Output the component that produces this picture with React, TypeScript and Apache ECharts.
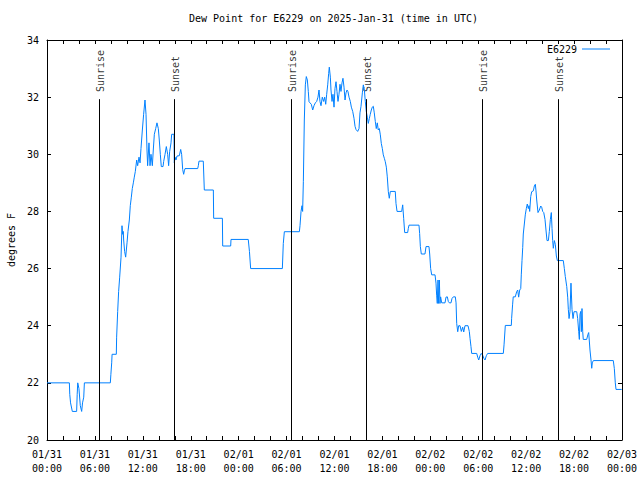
import React, { useEffect, useRef } from "react";
import * as echarts from "echarts";

const TITLE = "Dew Point for E6229 on 2025-Jan-31 (time in UTC)";
const SERIES_NAME = "E6229";
const Y_NAME = "degrees F";

// 13 tick labels every 6 hours from 01/31 00:00 to 02/03 00:00
const tickLabels = [
  "01/31\n00:00", "01/31\n06:00", "01/31\n12:00", "01/31\n18:00",
  "02/01\n00:00", "02/01\n06:00", "02/01\n12:00", "02/01\n18:00",
  "02/02\n00:00", "02/02\n06:00", "02/02\n12:00", "02/02\n18:00",
  "02/03\n00:00",
];

// hours since 2025-01-31 00:00 UTC
const hours = [
  0, 2.8, 2.85, 2.95, 3.17, 3.71, 3.78, 3.85, 4.0, 4.17, 4.34, 4.45, 4.6, 4.68,
  7.93, 8.0, 8.1, 8.15, 8.68, 8.72, 8.85, 8.97, 9.1, 9.27, 9.39, 9.47, 9.55, 9.6,
  9.72, 9.85, 10.02, 10.14, 10.31, 10.43, 10.56, 10.68, 10.81, 10.93, 11.06, 11.23,
  11.35, 11.52, 11.65, 11.77, 11.94, 12.1, 12.27, 12.4, 12.52, 12.6, 12.77, 12.9,
  13.02, 13.19, 13.31, 13.44, 13.61, 13.77, 13.94, 14.06, 14.19, 14.31, 14.53, 14.61,
  14.78, 14.94, 15.11, 15.23, 15.36, 15.53, 15.61, 15.9, 15.94, 16.03, 16.15, 16.28,
  16.57, 16.74, 16.86, 16.99, 17.11, 17.2, 17.28, 18.87, 18.95, 19.03, 19.57, 19.7,
  20.83, 20.87, 21.96, 22.0, 23.0, 23.04, 25.2, 25.35, 25.5, 29.47, 29.59, 29.72,
  31.6, 31.68, 31.81, 31.93, 32.01, 32.1, 32.22, 32.35, 32.47, 32.6, 32.72, 32.81,
  32.93, 33.1, 33.27, 33.43, 33.6, 33.77, 33.93, 34.06, 34.18, 34.31, 34.47, 34.64,
  34.77, 34.9, 35.02, 35.15, 35.27, 35.35, 35.48, 35.56, 35.69, 35.81, 35.94, 36.06,
  36.19, 36.31, 36.44, 36.56, 36.69, 36.81, 36.94, 37.06, 37.19, 37.32, 37.44, 37.57,
  37.69, 37.82, 37.98, 38.11, 38.28, 38.44, 38.57, 38.69, 38.9, 39.07, 39.19, 39.32,
  39.49, 39.61, 39.74, 39.86, 39.98, 40.11, 40.23, 40.36, 40.48, 40.61, 40.73, 40.86,
  40.98, 41.11, 41.23, 41.36, 41.48, 41.61, 41.74, 41.86, 41.99, 42.11, 42.24, 42.36,
  42.49, 42.61, 42.74, 42.86, 42.99, 43.61, 43.7, 43.83, 44.41, 44.54, 44.66, 44.79,
  45.16, 45.24, 45.33, 46.58, 46.66, 46.75, 46.87, 47.33, 47.46, 47.83, 47.92, 48.04,
  48.17, 48.59, 48.71, 48.79, 48.87, 48.96, 49.04, 49.13, 49.21, 49.29, 49.42, 49.84,
  49.96, 50.13, 50.25, 50.38, 50.59, 50.71, 50.88, 51.13, 51.22, 51.3, 51.43, 51.55,
  51.72, 51.88, 52.05, 52.18, 52.34, 52.72, 52.88, 52.97, 53.09, 53.18, 53.81, 53.93,
  54.06, 54.22, 54.38, 54.55, 54.72, 54.85, 55.01, 55.18, 57.14, 57.23, 57.39, 58.14,
  58.18, 58.3, 58.38, 58.64, 58.81, 58.94, 59.06, 59.19, 59.32, 59.39, 59.48, 59.57,
  59.64, 59.77, 59.89, 60.02, 60.14, 60.27, 60.36, 60.44, 60.57, 60.69, 60.9, 61.02,
  61.15, 61.23, 61.32, 61.48, 61.65, 61.82, 61.94, 62.07, 62.2, 62.36, 62.48, 62.61,
  62.78, 62.9, 63.03, 63.15, 63.24, 63.32, 63.4, 63.53, 63.65, 63.78, 63.9, 64.65,
  64.78, 64.9, 65.08, 65.2, 65.28, 65.37, 65.49, 65.61, 65.74, 65.87, 65.99, 66.33,
  66.45, 66.58, 66.66, 66.74, 66.83, 66.91, 66.99, 67.08, 67.15, 67.58, 67.74, 67.83,
  67.9, 67.99, 68.12, 68.21, 68.28, 68.41, 70.91, 71.04, 71.16, 71.25, 71.96,
];

// dew point, degrees F
const dewPoint = [
  22.0, 22.0, 21.6, 21.3, 21.0, 21.0, 21.6, 22.0, 21.8, 21.2, 21.0, 21.3, 21.5, 22.0,
  22.0, 22.3, 22.7, 23.0, 23.0, 23.6, 24.5, 25.2, 25.7, 26.4, 27.5, 27.2, 27.3, 27.0,
  26.6, 26.4, 26.9, 27.3, 27.7, 28.2, 28.5, 28.8, 29.0, 29.2, 29.4, 29.8,
  29.6, 29.9, 29.7, 30.2, 30.85, 31.4, 31.9, 31.4, 30.15, 29.6, 30.4, 29.6,
  30.0, 29.6, 30.15, 30.7, 30.9, 31.1, 30.9, 30.5, 30.0, 29.57, 29.57, 29.75,
  30.0, 30.27, 30.0, 29.6, 30.1, 30.4, 30.7, 30.7, 29.7, 29.9, 29.8, 29.94,
  29.95, 30.17, 30.0, 29.47, 29.3, 29.42, 29.5, 29.5, 29.6, 29.76, 29.76, 28.75,
  28.75, 27.76, 27.76, 26.79, 26.79, 27.02, 27.02, 26.6, 26.0, 26.0, 26.88, 27.29,
  27.29, 27.5, 28.0, 28.2, 28.0, 29.04, 31.2, 32.43, 32.72, 32.6, 32.2, 31.84,
  31.8, 31.75, 31.55, 31.7, 31.8, 31.85, 32.0, 32.25, 31.85, 31.7, 32.0, 31.85,
  32.0, 31.75, 32.1, 32.43, 32.83, 33.05, 32.7, 32.25, 31.85, 32.1, 31.65, 32.3,
  32.54, 32.2, 31.85, 32.1, 32.45, 32.2, 32.5, 32.66, 32.35, 31.9, 32.15, 32.25,
  32.19, 32.0, 31.85, 31.65, 31.5, 31.26, 30.98, 30.87, 30.8, 30.9, 31.45, 31.68,
  32.15, 32.43, 32.25, 31.84, 31.5, 31.3, 31.08, 31.25, 31.4, 31.55, 31.65, 31.68,
  31.45, 31.15, 30.9, 31.1, 30.85, 30.9, 30.68, 30.38, 30.2, 29.98, 29.86, 29.74,
  29.55, 29.21, 28.69, 28.46, 28.7, 28.7, 28.28, 28.0, 28.0, 28.23, 27.76, 27.26,
  27.26, 27.4, 27.52, 27.52, 27.23, 26.77, 26.51, 26.51, 26.77, 26.77, 26.51, 26.0,
  25.78, 25.78, 25.49, 25.07, 24.78, 25.6, 24.78, 25.6, 24.78, 25.01, 24.8, 24.8,
  25.0, 25.01, 24.85, 24.8, 24.8, 24.95, 25.01, 25.01, 24.8, 24.08, 23.79, 24.0,
  24.0, 23.8, 23.95, 23.78, 24.0, 24.0, 23.8, 23.56, 23.27, 23.03, 23.03, 22.9,
  22.8, 22.95, 23.03, 22.97, 22.85, 22.8, 22.95, 23.03, 23.03, 23.33, 24.01, 24.01,
  24.26, 24.73, 25.01, 25.01, 25.19, 25.25, 25.0, 25.25, 25.3, 25.78, 26.28, 26.74,
  27.21, 27.56, 27.88, 28.1, 28.26, 28.1, 28.2, 28.0, 28.52, 28.69, 28.72, 28.89,
  28.95, 28.72, 28.4, 27.96, 28.05, 28.19, 28.15, 28.0, 27.96, 27.72, 27.35, 26.98,
  26.98, 27.3, 27.72, 27.96, 27.4, 26.98, 26.71, 26.98, 26.85, 26.44, 26.28, 26.28,
  26.0, 25.72, 25.37, 25.0, 24.57, 24.25, 24.5, 25.49, 24.57, 24.25, 24.49, 24.49,
  24.25, 23.79, 23.52, 24.4, 24.5, 23.79, 24.6, 23.79, 23.52, 23.52, 23.7, 23.76,
  23.5, 23.15, 22.8, 22.51, 22.7, 22.78, 22.78, 22.5, 22.0, 21.77, 21.77,
];

// sunrise / sunset markers (hours since 01/31 00:00 UTC)
const sunNames = ["Sunrise", "Sunset", "Sunrise", "Sunset", "Sunrise", "Sunset"];
const sunHours = [6.55, 15.94, 30.59, 39.98, 54.51, 64.03];
const sunLineTop = 31.93;
const sunLabelBase = 32.18;

const Y_MIN = 20;
const Y_MAX = 34;
const Y_STEP = 2;
const X_MIN = 0;
const X_MAX = 72;
const X_STEP = 6;

const FONT = "DejaVu Sans Mono";

export default function App() {
  const ref = useRef<HTMLDivElement>(null);

  useEffect(() => {
    document.body.style.margin = "0";
    if (!ref.current) return;
    const chart = echarts.init(ref.current, undefined, { renderer: "svg" });

    const lineData = hours.map((h, i) => [h, dewPoint[i]]);
    const sunLines = sunHours.map((h) => [
      { coord: [h, Y_MIN] },
      { coord: [h, sunLineTop] },
    ]);
    const sunLabels = sunHours.map((h, i) => ({
      value: [h, sunLabelBase],
      name: sunNames[i],
    }));

    const tickCommon = {
      show: true,
      inside: true,
      length: 4,
      lineStyle: { color: "#000", width: 1 },
    };
    const axisLineCommon = {
      show: true,
      onZero: false,
      lineStyle: { color: "#000", width: 1 },
    };

    chart.setOption({
      animation: false,
      backgroundColor: "#fff",
      textStyle: { fontFamily: FONT },
      title: {
        text: TITLE,
        left: 189,
        top: 13,
        padding: 0,
        textStyle: {
          fontFamily: FONT,
          fontSize: 10,
          fontWeight: "normal",
          color: "#000",
        },
      },
      legend: {
        data: [{ name: SERIES_NAME, icon: "rect" }],
        right: 30,
        top: 44,
        padding: 0,
        align: "right",
        itemWidth: 28,
        itemHeight: 1,
        textStyle: { fontFamily: FONT, fontSize: 10, color: "#000" },
      },
      grid: {
        left: 47,
        right: 18,
        top: 40,
        bottom: 40,
        containLabel: false,
        outerBoundsMode: "none",
      },
      xAxis: [
        {
          type: "value",
          min: X_MIN,
          max: X_MAX,
          interval: X_STEP,
          position: "bottom",
          axisLine: axisLineCommon,
          axisTick: tickCommon,
          minorTick: { show: true, splitNumber: 3, length: 4, lineStyle: { color: "#000" } },
          splitLine: { show: false },
          axisLabel: {
            fontFamily: FONT,
            fontSize: 10,
            color: "#000",
            lineHeight: 14,
            margin: 7,
            formatter: (v: number) => tickLabels[Math.round((v - X_MIN) / X_STEP)] ?? "",
          },
        },
        {
          type: "value",
          min: X_MIN,
          max: X_MAX,
          interval: X_STEP,
          position: "top",
          axisLine: axisLineCommon,
          axisTick: tickCommon,
          minorTick: { show: true, splitNumber: 3, length: 4, lineStyle: { color: "#000" } },
          splitLine: { show: false },
          axisLabel: { show: false },
        },
      ],
      yAxis: [
        {
          type: "value",
          min: Y_MIN,
          max: Y_MAX,
          interval: Y_STEP,
          position: "left",
          name: Y_NAME,
          nameLocation: "middle",
          nameRotate: 90,
          nameGap: 31,
          nameTextStyle: { fontFamily: FONT, fontSize: 10, color: "#000" },
          axisLine: axisLineCommon,
          axisTick: tickCommon,
          splitLine: { show: false },
          axisLabel: { fontFamily: FONT, fontSize: 10, color: "#000", margin: 8 },
        },
        {
          type: "value",
          min: Y_MIN,
          max: Y_MAX,
          interval: Y_STEP,
          position: "right",
          axisLine: axisLineCommon,
          axisTick: tickCommon,
          splitLine: { show: false },
          axisLabel: { show: false },
        },
      ],
      series: [
        {
          name: SERIES_NAME,
          type: "line",
          xAxisIndex: 0,
          yAxisIndex: 0,
          data: lineData,
          symbol: "none",
          showSymbol: false,
          lineStyle: { color: "#0080ff", width: 1 },
          itemStyle: { color: "#0080ff" },
          markLine: {
            silent: true,
            symbol: ["none", "none"],
            label: { show: false },
            lineStyle: { color: "#000", width: 1, type: "solid" },
            data: sunLines,
          },
        },
        {
          name: "sun",
          type: "scatter",
          xAxisIndex: 0,
          yAxisIndex: 0,
          data: sunLabels,
          symbolSize: 0,
          silent: true,
          label: {
            show: true,
            position: "inside",
            rotate: 90,
            align: "left",
            verticalAlign: "middle",
            offset: [0, 1],
            formatter: (p: any) => p.name,
            fontFamily: FONT,
            fontSize: 10,
            color: "#000",
          },
        },
      ],
    });

    return () => chart.dispose();
  }, []);

  return <div ref={ref} style={{ width: 640, height: 480 }} />;
}
